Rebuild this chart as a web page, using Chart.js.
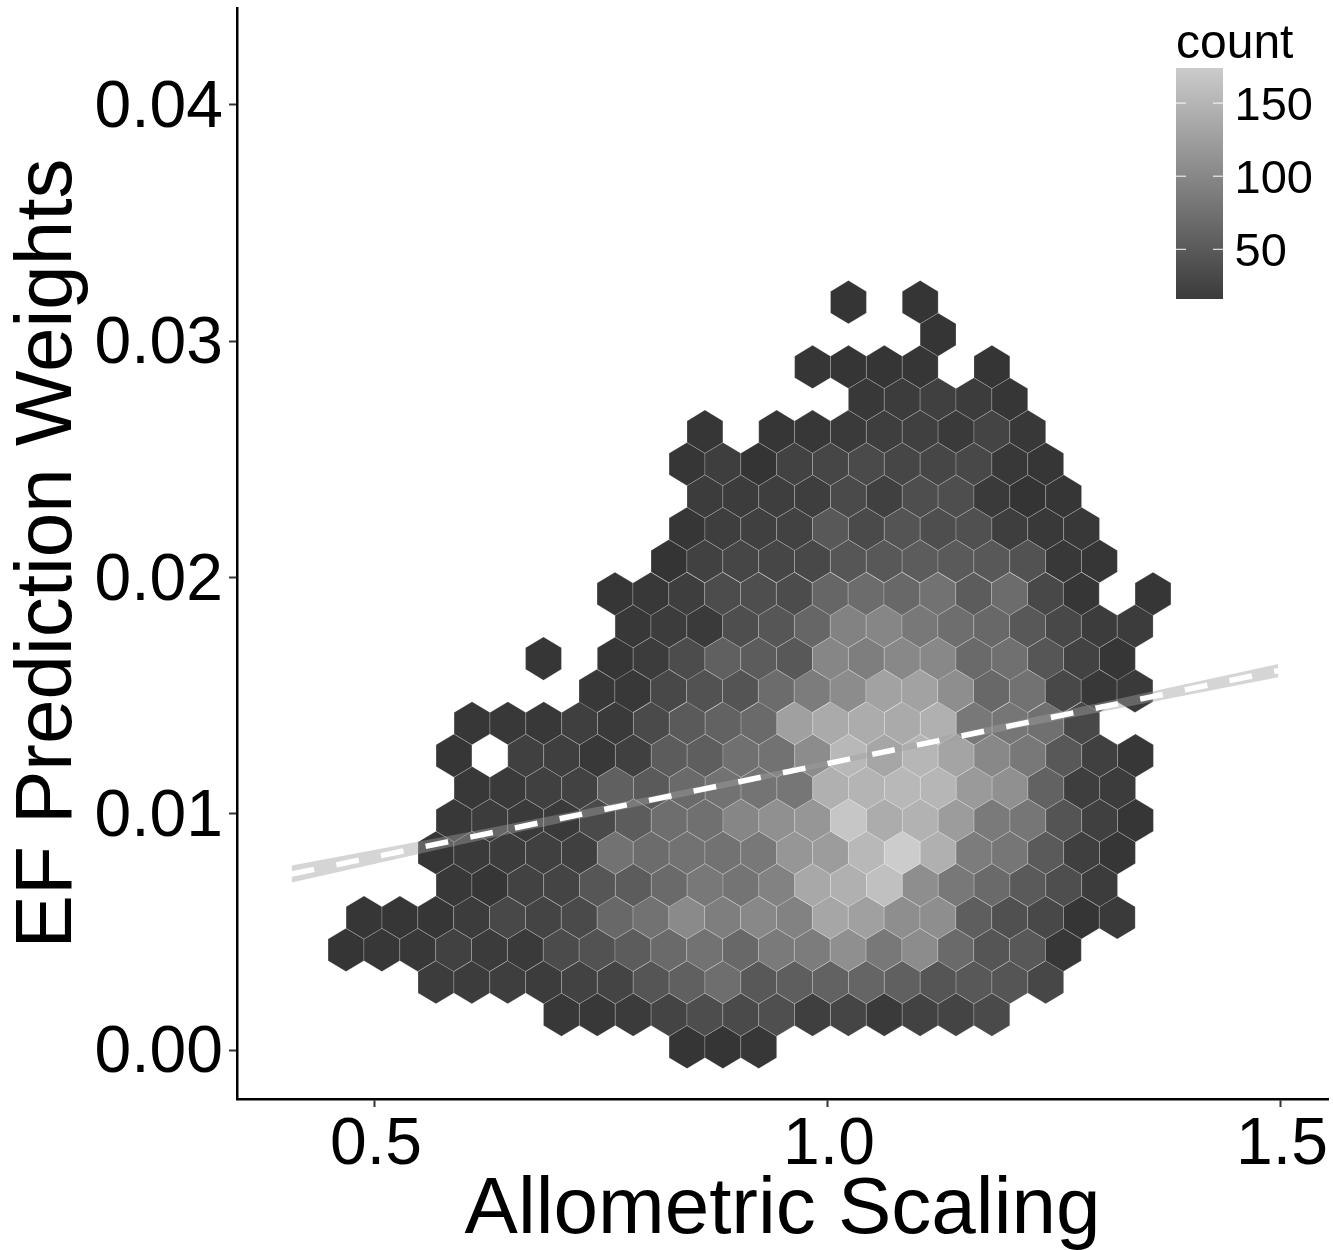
<!DOCTYPE html>
<html>
<head>
<meta charset="utf-8">
<title>EF Prediction Weights</title>
<script src="https://cdn.jsdelivr.net/npm/chart.js@4"></script>
<style>
  html, body { margin: 0; padding: 0; background: #fff; }
  canvas { display: block; }
</style>
</head>
<body>
<canvas id="hexChart" width="1333" height="1250"></canvas>
<script>
// hex bins, one row per y value, bottom row first (null = empty bin)
const binWidth = 0.03959;
const binHeight = 0.0013706;
const hexRowY = [0.00013, 0.00150, 0.00287, 0.00424, 0.00561, 0.00698, 0.00835, 0.00972,
  0.01109, 0.01246, 0.01383, 0.01520, 0.01657, 0.01794, 0.01931, 0.02069,
  0.02206, 0.02343, 0.02480, 0.02617, 0.02754, 0.02891, 0.03028, 0.03165];
const hexRowStartX = [0.8444, 0.7058, 0.5673, 0.4680, 0.4879, 0.5872, 0.5673, 0.5872,
  0.6071, 0.5872, 0.6071, 0.7450, 0.6860, 0.7848, 0.7649, 0.8245,
  0.8444, 0.8642, 0.8444, 0.8642, 1.0423, 0.9830, 1.1215, 1.0226];
const hexRowCounts = [
  [18, 18, 20],
  [21, 21, 24, 33, 42, 39, 44, 28, 34, 23, 31, 33, 39],
  [25, 25, 27, 25, 31, 33, 50, 61, 75, 53, 59, 63, 66, 61, 50, 53, 50, 36],
  [18, 20, 21, 30, 24, 23, 40, 47, 57, 71, 79, 69, 87, 89, 108, 85, 105, 71, 50, 53, 20],
  [19, 19, 19, 25, 37, 33, 39, 69, 79, 103, 91, 101, 95, 131, 125, 107, 107, 59, 45, 37, 18, 23],
  [21, 19, 31, 33, 51, 57, 71, 85, 81, 95, 133, 141, 157, 107, 85, 71, 55, 43, 25],
  [19, 23, 25, 29, 29, 79, 73, 79, 79, 85, 115, 121, 149, 169, 141, 89, 83, 55, 28, 19],
  [21, 25, 23, 23, 39, 57, 75, 77, 99, 109, 115, 163, 137, 143, 121, 87, 83, 49, 29, 19],
  [21, 23, 29, 31, 61, 55, 71, 79, 81, 83, 141, 145, 149, 147, 119, 109, 63, 27, 25],
  [19, null, 29, 28, 21, 29, 57, 59, 77, 79, 105, 149, 131, 147, 129, 101, 85, 53, 29, 20],
  [20, 21, 21, 28, 23, 39, 55, 63, 71, 125, 135, 137, 135, 141, 85, 83, 77, 37],
  [21, 21, 37, 47, 49, 73, 89, 105, 127, 127, 107, 69, 79, 37, 21, 23],
  [19, null, 19, 25, 41, 61, 57, 53, 99, 91, 101, 101, 71, 77, 51, 31, 19],
  [21, 25, 23, 43, 51, 67, 95, 99, 85, 75, 69, 53, 37, 25, 25],
  [19, 21, 27, 41, 43, 41, 67, 73, 69, 79, 57, 73, 37, 19, null, 19],
  [17, 30, 35, 35, 37, 51, 53, 57, 55, 53, 47, 21, 19],
  [19, 27, 29, 31, 53, 39, 49, 43, 45, 27, 22, 21],
  [25, 25, 27, 27, 39, 29, 43, 43, 23, 17, 19],
  [19, 27, 17, 31, 35, 39, 35, 35, 37, 21, 19],
  [19, null, 19, 20, 23, 27, 29, 23, 33, 21],
  [21, 25, 29, 25, 19],
  [19, 18, 18, 19, null, 18],
  [18],
  [18, null, 18]
];

// regression line and its confidence band
const fitX = [0.408, 0.6, 0.8, 1.0, 1.2, 1.497];
const fitY = [0.00745, 0.00897, 0.01055, 0.01213, 0.01371, 0.01606];
const fitUpper = [0.00781, 0.00920, 0.01070, 0.01224, 0.01386, 0.01634];
const fitLower = [0.00709, 0.00874, 0.01040, 0.01202, 0.01356, 0.01578];

const xTicks = [0.5, 1.0, 1.5];
const yTicks = [0, 0.01, 0.02, 0.03, 0.04];
const legendTicks = [50, 100, 150];
const legendMin = 16;
const legendMax = 174;

function countColor(count) {
  const g = Math.round(35 + count);
  return `rgb(${g},${g},${g})`;
}

const hexPoints = [];
hexRowCounts.forEach((row, r) => {
  row.forEach((count, c) => {
    if (count !== null) {
      hexPoints.push({ x: hexRowStartX[r] + c * binWidth, y: hexRowY[r], count: count });
    }
  });
});

const xyPairs = ys => fitX.map((x, i) => ({ x: x, y: ys[i] }));

// chart.js has no hexagon point, so draw them at the positions it computed
const hexPlugin = {
  id: 'hexPlugin',
  beforeDatasetDraw(chart, args) {
    if (args.index !== 0) return;
    const ctx = chart.ctx;
    const xs = chart.scales.x;
    const ys = chart.scales.y;
    const hw = Math.abs(xs.getPixelForValue(binWidth) - xs.getPixelForValue(0)) / 2;
    const hh = Math.abs(ys.getPixelForValue(binHeight) - ys.getPixelForValue(0)) * 2 / 3;
    ctx.save();
    ctx.lineWidth = 0.4;
    ctx.strokeStyle = 'rgba(255,255,255,0.5)';
    args.meta.data.forEach((pt, i) => {
      ctx.beginPath();
      ctx.moveTo(pt.x, pt.y - hh);
      ctx.lineTo(pt.x + hw, pt.y - hh / 2);
      ctx.lineTo(pt.x + hw, pt.y + hh / 2);
      ctx.lineTo(pt.x, pt.y + hh);
      ctx.lineTo(pt.x - hw, pt.y + hh / 2);
      ctx.lineTo(pt.x - hw, pt.y - hh / 2);
      ctx.closePath();
      ctx.fillStyle = countColor(hexPoints[i].count);
      ctx.fill();
      ctx.stroke();
    });
    ctx.restore();
  }
};

// count colour bar, top right
const colorBarPlugin = {
  id: 'colorBarPlugin',
  afterDraw(chart) {
    const ctx = chart.ctx;
    const left = 1176, right = 1223, top = 68, bottom = 299;
    const grad = ctx.createLinearGradient(0, bottom, 0, top);
    grad.addColorStop(0, '#3b3b3b');
    grad.addColorStop(1, '#cbcbcb');
    ctx.save();
    ctx.fillStyle = grad;
    ctx.fillRect(left, top, right - left, bottom - top);
    ctx.fillStyle = '#000';
    ctx.font = '48px "Liberation Sans"';
    ctx.textBaseline = 'alphabetic';
    ctx.fillText('count', 1176, 58);
    ctx.font = '47px "Liberation Sans"';
    ctx.textBaseline = 'middle';
    ctx.strokeStyle = '#fff';
    ctx.lineWidth = 1;
    legendTicks.forEach(t => {
      const y = bottom - (t - legendMin) / (legendMax - legendMin) * (bottom - top);
      ctx.beginPath();
      ctx.moveTo(left, y);
      ctx.lineTo(left + 10, y);
      ctx.moveTo(right - 10, y);
      ctx.lineTo(right, y);
      ctx.stroke();
      ctx.fillText(String(t), 1234.5, y + 4);
    });
    ctx.restore();
  }
};

const tickFont = { family: '"Liberation Sans"', size: 66 };

new Chart(document.getElementById('hexChart'), {
  type: 'scatter',
  plugins: [hexPlugin, colorBarPlugin],
  data: {
    datasets: [
      {
        label: 'count',
        data: hexPoints,
        pointRadius: 0,
        pointHoverRadius: 0,
        order: 3
      },
      {
        type: 'line',
        label: 'band upper',
        data: xyPairs(fitUpper),
        borderWidth: 0,
        pointRadius: 0,
        fill: '+1',
        backgroundColor: 'rgba(160,160,160,0.44)',
        order: 2
      },
      {
        type: 'line',
        label: 'band lower',
        data: xyPairs(fitLower),
        borderWidth: 0,
        pointRadius: 0,
        fill: false,
        order: 2
      },
      {
        type: 'line',
        label: 'fit',
        data: xyPairs(fitY),
        borderColor: '#fff',
        borderWidth: 5.5,
        borderDash: [23, 22.6],
        pointRadius: 0,
        fill: false,
        order: 1
      }
    ]
  },
  options: {
    responsive: false,
    animation: false,
    devicePixelRatio: 1,
    layout: { padding: { top: 8, right: 5, bottom: 0, left: 0 } },
    plugins: {
      legend: { display: false },
      tooltip: { enabled: false }
    },
    scales: {
      x: {
        type: 'linear',
        min: 0.3477,
        max: 1.5519,
        afterFit: axis => { axis.height = 151; },
        afterBuildTicks: axis => { axis.ticks = xTicks.map(v => ({ value: v })); },
        border: { display: true, color: '#000', width: 2.5 },
        grid: { drawOnChartArea: false, drawTicks: true, tickLength: 8, tickColor: '#333', tickWidth: 2 },
        ticks: {
          color: '#000',
          font: tickFont,
          padding: -1,
          labelOffset: 1,
          maxRotation: 0,
          callback: v => v.toFixed(1)
        },
        title: {
          display: true,
          text: 'Allometric Scaling',
          color: '#000',
          font: { family: '"Liberation Sans"', size: 80, lineHeight: 0.875 }
        }
      },
      y: {
        type: 'linear',
        min: -0.00207,
        max: 0.0441,
        afterFit: axis => {
          axis.width = 237;
          axis.paddingTop = 0;
          axis.paddingBottom = 0;
        },
        afterBuildTicks: axis => { axis.ticks = yTicks.map(v => ({ value: v })); },
        border: { display: true, color: '#000', width: 2.5 },
        grid: { drawOnChartArea: false, drawTicks: true, tickLength: 8, tickColor: '#333', tickWidth: 2 },
        ticks: {
          color: '#000',
          font: tickFont,
          padding: 6,
          labelOffset: 4,
          callback: v => v.toFixed(2)
        },
        title: {
          display: true,
          text: 'EF Prediction Weights',
          color: '#000',
          font: { family: '"Liberation Sans"', size: 80, lineHeight: 1.125 }
        }
      }
    }
  }
});
</script>
</body>
</html>
